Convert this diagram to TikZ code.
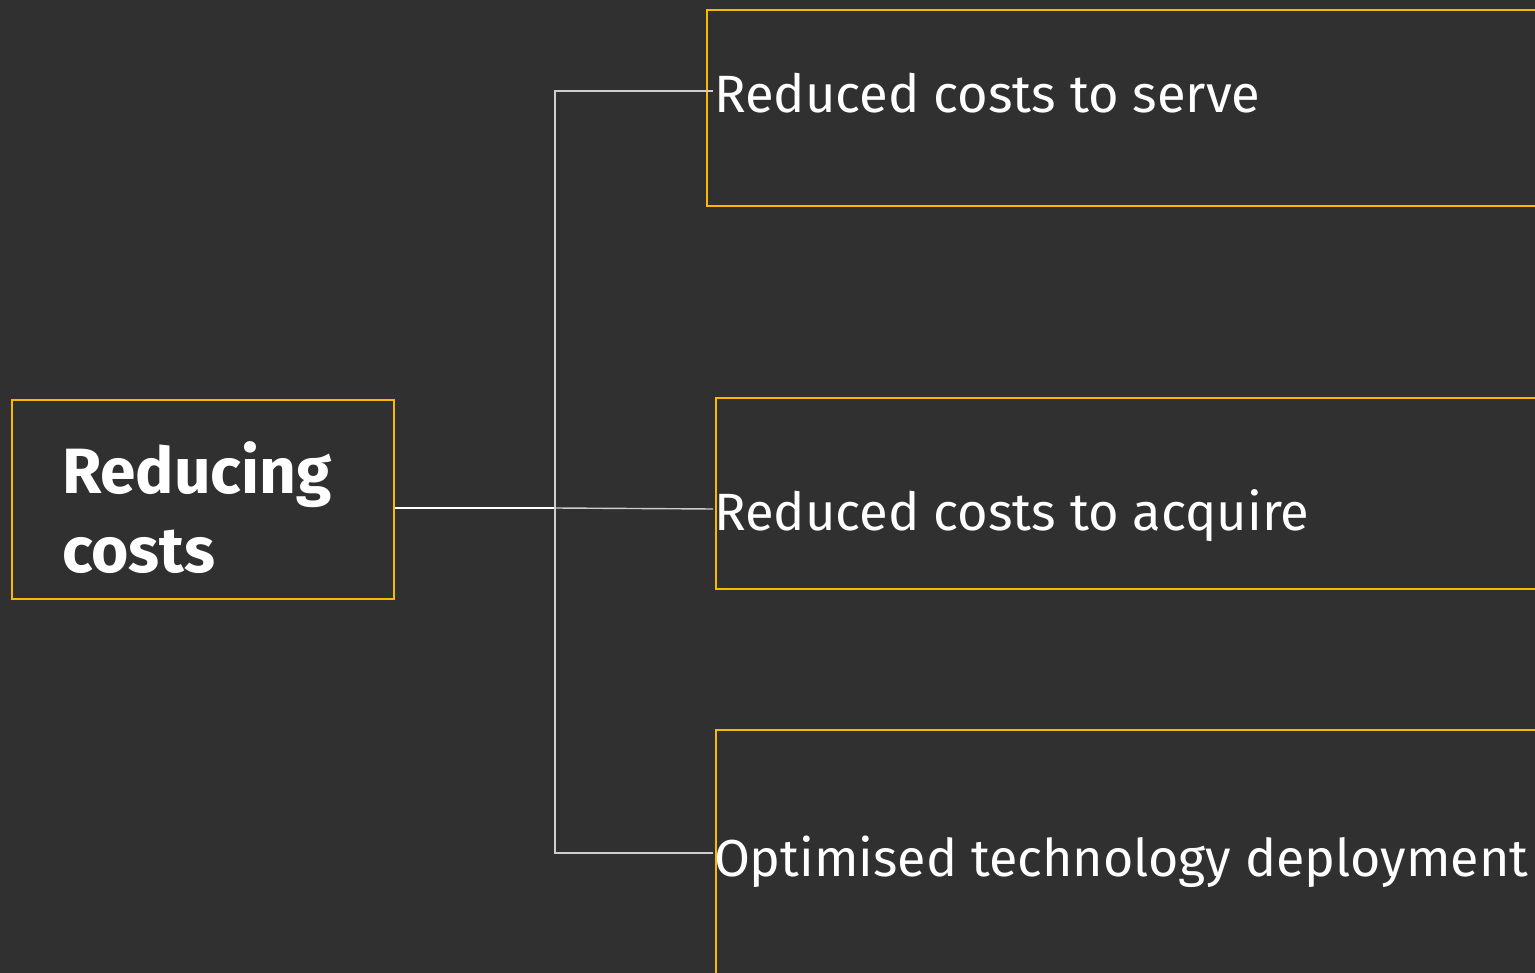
\documentclass[tikz,border=0pt]{standalone}
\usepackage{fontspec}
\setmainfont{Fira Sans}
\definecolor{bg}{RGB}{48,48,48}
\definecolor{eyyellow}{RGB}{250,185,0}
\definecolor{linkgray}{RGB}{205,205,205}
\tikzset{
  frame/.style={draw=eyyellow, line width=1.6pt, inner sep=0pt, outer sep=0pt},
  label/.style={text=white, inner sep=0pt, outer sep=0pt, anchor=base west},
  link/.style={draw=linkgray, line width=1.4pt},
}
\begin{document}
\begin{tikzpicture}[x=1pt,y=-1pt]
  \useasboundingbox (0,0) rectangle (1535,973);
  \fill[bg] (0,0) rectangle (1535,973);
  \clip (0,0) rectangle (1535,973);

  % root box
  \draw[frame] (12,400) rectangle (394,599);
  % the base anchor of a two-line node sits on its last line
  \node[label, font=\fontsize{64}{79}\selectfont\bfseries, align=left] (root)
    at (62,572) {Reducing\\costs};
  \coordinate (rootE) at (395,508);

  % branch boxes
  \draw[frame] (707,10) rectangle (1560,206);
  \draw[frame] (716,398) rectangle (1560,589);
  \draw[frame] (716,730) rectangle (1560,1000);

  \node[label, font=\fontsize{52.5}{60}\selectfont] (serve) at (714,113) {Reduced costs to serve};
  \node[label, font=\fontsize{52.5}{60}\selectfont] (acquire) at (714,530) {Reduced costs to acquire};
  \node[label, font=\fontsize{52}{60}\selectfont] (tech) at (714,876) {Optimised technology deployment};

  \coordinate (serveW) at (713,91);
  \coordinate (acquireW) at (713,509);
  \coordinate (techW) at (713,853);
  \coordinate (hub) at (555,508);

  % connectors
  \draw[draw=white, line width=2pt] (rootE) -- (hub);
  \draw[link] (hub) -- (acquireW);
  \draw[link] (serveW) -| (hub) |- (techW);
\end{tikzpicture}
\end{document}
